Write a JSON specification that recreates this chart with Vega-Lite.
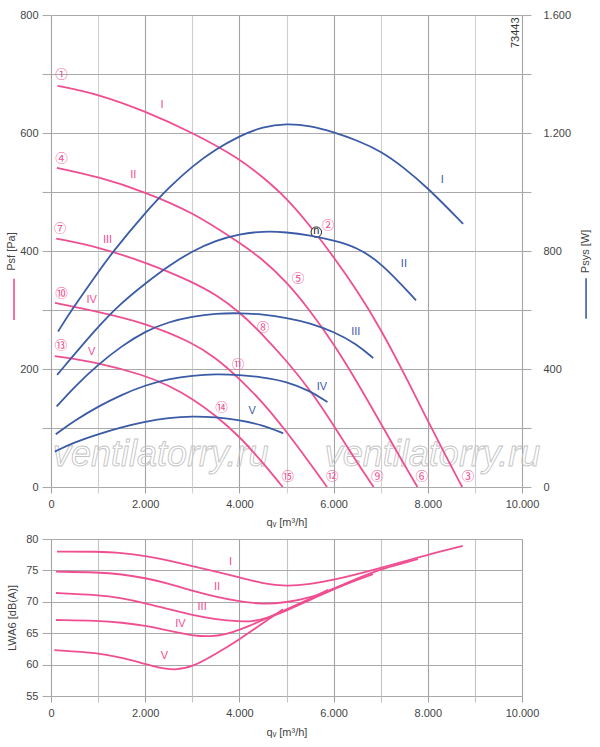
{
  "$schema": "https://vega.github.io/schema/vega-lite/v6.json",
  "description": "Fan performance chart 73443",
  "padding": {"left": 5, "top": 9, "right": 5, "bottom": 5},
  "spacing": 6,
  "config": {
    "font": "Liberation Sans",
    "view": {"stroke": null},
    "axis": {
      "labelFontSize": 11,
      "titleFontSize": 11,
      "labelColor": "#444",
      "titleColor": "#444",
      "titleFontWeight": "normal",
      "domain": false,
      "gridColor": "#aaaaaa",
      "gridWidth": 1.1,
      "tickColor": "#aaaaaa",
      "tickWidth": 1.1,
      "labelFlush": false,
      "labelOverlap": false,
      "labelBound": false
    },
    "text": {"font": "Liberation Sans"}
  },
  "datasets": {
    "pressure": [
      {"c": "I", "q": 140, "p": 680}, {"c": "I", "q": 1000, "p": 666}, {"c": "I", "q": 2000, "p": 637}, {"c": "I", "q": 3000, "p": 601},
      {"c": "I", "q": 4000, "p": 557}, {"c": "I", "q": 4500, "p": 525}, {"c": "I", "q": 5000, "p": 490}, {"c": "I", "q": 5500, "p": 443},
      {"c": "I", "q": 6000, "p": 390}, {"c": "I", "q": 6500, "p": 333}, {"c": "I", "q": 7000, "p": 268}, {"c": "I", "q": 7500, "p": 192},
      {"c": "I", "q": 8000, "p": 112}, {"c": "I", "q": 8400, "p": 50}, {"c": "I", "q": 8730, "p": 0},
      {"c": "II", "q": 125, "p": 541}, {"c": "II", "q": 1000, "p": 526}, {"c": "II", "q": 2000, "p": 500}, {"c": "II", "q": 3000, "p": 466},
      {"c": "II", "q": 4000, "p": 414}, {"c": "II", "q": 4450, "p": 389}, {"c": "II", "q": 5000, "p": 348}, {"c": "II", "q": 5500, "p": 299},
      {"c": "II", "q": 6000, "p": 243}, {"c": "II", "q": 6500, "p": 178}, {"c": "II", "q": 7000, "p": 108}, {"c": "II", "q": 7500, "p": 38},
      {"c": "II", "q": 7780, "p": 0},
      {"c": "III", "q": 110, "p": 421}, {"c": "III", "q": 1000, "p": 407}, {"c": "III", "q": 2000, "p": 381}, {"c": "III", "q": 3000, "p": 348},
      {"c": "III", "q": 3500, "p": 326}, {"c": "III", "q": 4000, "p": 297}, {"c": "III", "q": 4500, "p": 258}, {"c": "III", "q": 5000, "p": 214},
      {"c": "III", "q": 5500, "p": 165}, {"c": "III", "q": 6000, "p": 105}, {"c": "III", "q": 6500, "p": 41}, {"c": "III", "q": 6850, "p": 0},
      {"c": "IV", "q": 85, "p": 312}, {"c": "IV", "q": 1000, "p": 297}, {"c": "IV", "q": 2000, "p": 278}, {"c": "IV", "q": 3000, "p": 245},
      {"c": "IV", "q": 3500, "p": 219}, {"c": "IV", "q": 4000, "p": 184}, {"c": "IV", "q": 4500, "p": 143}, {"c": "IV", "q": 5000, "p": 94},
      {"c": "IV", "q": 5500, "p": 40}, {"c": "IV", "q": 5860, "p": 0},
      {"c": "V", "q": 80, "p": 222}, {"c": "V", "q": 1000, "p": 211}, {"c": "V", "q": 2000, "p": 189}, {"c": "V", "q": 2500, "p": 172},
      {"c": "V", "q": 3000, "p": 150}, {"c": "V", "q": 3500, "p": 121}, {"c": "V", "q": 4000, "p": 86}, {"c": "V", "q": 4500, "p": 41},
      {"c": "V", "q": 4920, "p": 0}
    ],
    "power": [
      {"c": "I", "q": 150, "w": 527}, {"c": "I", "q": 440, "w": 601}, {"c": "I", "q": 1000, "w": 728}, {"c": "I", "q": 1300, "w": 795},
      {"c": "I", "q": 2000, "w": 930}, {"c": "I", "q": 2500, "w": 1015}, {"c": "I", "q": 3000, "w": 1088}, {"c": "I", "q": 3500, "w": 1145},
      {"c": "I", "q": 4000, "w": 1190}, {"c": "I", "q": 4500, "w": 1222}, {"c": "I", "q": 5000, "w": 1232}, {"c": "I", "q": 5500, "w": 1225},
      {"c": "I", "q": 6000, "w": 1203}, {"c": "I", "q": 6500, "w": 1175}, {"c": "I", "q": 7000, "w": 1139}, {"c": "I", "q": 7500, "w": 1082},
      {"c": "I", "q": 8000, "w": 1014}, {"c": "I", "q": 8750, "w": 892},
      {"c": "II", "q": 130, "w": 380}, {"c": "II", "q": 1000, "w": 545}, {"c": "II", "q": 1500, "w": 625}, {"c": "II", "q": 2000, "w": 690},
      {"c": "II", "q": 2500, "w": 750}, {"c": "II", "q": 3000, "w": 800}, {"c": "II", "q": 3500, "w": 836}, {"c": "II", "q": 4000, "w": 858},
      {"c": "II", "q": 4500, "w": 867}, {"c": "II", "q": 5000, "w": 864}, {"c": "II", "q": 5500, "w": 853}, {"c": "II", "q": 6000, "w": 836},
      {"c": "II", "q": 6500, "w": 812}, {"c": "II", "q": 7000, "w": 762}, {"c": "II", "q": 7750, "w": 633},
      {"c": "III", "q": 120, "w": 273}, {"c": "III", "q": 500, "w": 340}, {"c": "III", "q": 1000, "w": 415}, {"c": "III", "q": 1500, "w": 478},
      {"c": "III", "q": 2000, "w": 528}, {"c": "III", "q": 2500, "w": 560}, {"c": "III", "q": 3000, "w": 578}, {"c": "III", "q": 3500, "w": 588},
      {"c": "III", "q": 4000, "w": 590}, {"c": "III", "q": 4500, "w": 585}, {"c": "III", "q": 5000, "w": 574}, {"c": "III", "q": 5500, "w": 556},
      {"c": "III", "q": 6000, "w": 527}, {"c": "III", "q": 6500, "w": 484}, {"c": "III", "q": 6840, "w": 437},
      {"c": "IV", "q": 100, "w": 179}, {"c": "IV", "q": 500, "w": 225}, {"c": "IV", "q": 1000, "w": 273}, {"c": "IV", "q": 1500, "w": 313},
      {"c": "IV", "q": 2000, "w": 345}, {"c": "IV", "q": 2500, "w": 366}, {"c": "IV", "q": 3000, "w": 378}, {"c": "IV", "q": 3500, "w": 383},
      {"c": "IV", "q": 4000, "w": 380}, {"c": "IV", "q": 4500, "w": 372}, {"c": "IV", "q": 5000, "w": 358}, {"c": "IV", "q": 5500, "w": 326},
      {"c": "IV", "q": 5870, "w": 288},
      {"c": "V", "q": 80, "w": 120}, {"c": "V", "q": 500, "w": 152}, {"c": "V", "q": 1000, "w": 179}, {"c": "V", "q": 1500, "w": 203},
      {"c": "V", "q": 2000, "w": 222}, {"c": "V", "q": 2500, "w": 235}, {"c": "V", "q": 3000, "w": 240}, {"c": "V", "q": 3500, "w": 237},
      {"c": "V", "q": 4000, "w": 227}, {"c": "V", "q": 4500, "w": 210}, {"c": "V", "q": 4930, "w": 182}
    ],
    "noise": [
      {"c": "I", "q": 127, "db": 78.0}, {"c": "I", "q": 1000, "db": 78.0}, {"c": "I", "q": 1500, "db": 77.8}, {"c": "I", "q": 2000, "db": 77.3},
      {"c": "I", "q": 2500, "db": 76.6}, {"c": "I", "q": 3000, "db": 75.7}, {"c": "I", "q": 3500, "db": 74.8}, {"c": "I", "q": 4000, "db": 73.9},
      {"c": "I", "q": 4500, "db": 72.9}, {"c": "I", "q": 5000, "db": 72.45}, {"c": "I", "q": 5500, "db": 72.8}, {"c": "I", "q": 6000, "db": 73.5},
      {"c": "I", "q": 6500, "db": 74.4}, {"c": "I", "q": 7000, "db": 75.4}, {"c": "I", "q": 7500, "db": 76.45}, {"c": "I", "q": 8000, "db": 77.5},
      {"c": "I", "q": 8743, "db": 78.9},
      {"c": "II", "q": 106, "db": 74.8}, {"c": "II", "q": 1000, "db": 74.7}, {"c": "II", "q": 1500, "db": 74.4}, {"c": "II", "q": 2000, "db": 73.8},
      {"c": "II", "q": 2500, "db": 72.9}, {"c": "II", "q": 3000, "db": 71.75}, {"c": "II", "q": 3500, "db": 70.8}, {"c": "II", "q": 4000, "db": 70.05},
      {"c": "II", "q": 4500, "db": 69.6}, {"c": "II", "q": 5000, "db": 69.9}, {"c": "II", "q": 5500, "db": 70.6}, {"c": "II", "q": 6000, "db": 72.1},
      {"c": "II", "q": 6500, "db": 73.7}, {"c": "II", "q": 7000, "db": 75.2}, {"c": "II", "q": 7500, "db": 76.2}, {"c": "II", "q": 7790, "db": 76.8},
      {"c": "III", "q": 106, "db": 71.4}, {"c": "III", "q": 1000, "db": 71.1}, {"c": "III", "q": 1500, "db": 70.6}, {"c": "III", "q": 2000, "db": 69.8},
      {"c": "III", "q": 2500, "db": 68.8}, {"c": "III", "q": 3000, "db": 67.9}, {"c": "III", "q": 3500, "db": 67.2}, {"c": "III", "q": 4000, "db": 66.85},
      {"c": "III", "q": 4300, "db": 66.9}, {"c": "III", "q": 4600, "db": 67.4}, {"c": "III", "q": 5000, "db": 68.6}, {"c": "III", "q": 5500, "db": 70.3},
      {"c": "III", "q": 6000, "db": 72.0}, {"c": "III", "q": 6500, "db": 73.5}, {"c": "III", "q": 6836, "db": 74.4},
      {"c": "IV", "q": 106, "db": 67.1}, {"c": "IV", "q": 1000, "db": 67.0}, {"c": "IV", "q": 1500, "db": 66.7}, {"c": "IV", "q": 2000, "db": 66.2},
      {"c": "IV", "q": 2500, "db": 65.4}, {"c": "IV", "q": 3000, "db": 64.6}, {"c": "IV", "q": 3400, "db": 64.45}, {"c": "IV", "q": 3700, "db": 64.8},
      {"c": "IV", "q": 4000, "db": 65.5}, {"c": "IV", "q": 4500, "db": 67.1}, {"c": "IV", "q": 5000, "db": 68.8}, {"c": "IV", "q": 5500, "db": 70.5},
      {"c": "IV", "q": 5883, "db": 71.9},
      {"c": "V", "q": 71, "db": 62.3}, {"c": "V", "q": 1000, "db": 61.9}, {"c": "V", "q": 1500, "db": 61.1}, {"c": "V", "q": 2000, "db": 60.1},
      {"c": "V", "q": 2300, "db": 59.5}, {"c": "V", "q": 2620, "db": 59.1}, {"c": "V", "q": 3000, "db": 59.6}, {"c": "V", "q": 3500, "db": 61.7},
      {"c": "V", "q": 4000, "db": 64.0}, {"c": "V", "q": 4500, "db": 66.6}, {"c": "V", "q": 4922, "db": 68.8}
    ],
    "circled": [
      {"t": "①", "q": 225, "p": 698}, {"t": "②", "q": 5881, "p": 443}, {"t": "③", "q": 8851, "p": 17},
      {"t": "④", "q": 225, "p": 556}, {"t": "⑤", "q": 5245, "p": 353}, {"t": "⑥", "q": 7870, "p": 17},
      {"t": "⑦", "q": 190, "p": 438}, {"t": "⑧", "q": 4503, "p": 270}, {"t": "⑨", "q": 6927, "p": 17},
      {"t": "⑩", "q": 225, "p": 327}, {"t": "⑪", "q": 3972, "p": 207}, {"t": "⑫", "q": 5970, "p": 17},
      {"t": "⑬", "q": 210, "p": 239}, {"t": "⑭", "q": 3620, "p": 134}, {"t": "⑮", "q": 5025, "p": 17}
    ],
    "proman": [
      {"t": "I", "q": 2360, "p": 648}, {"t": "II", "q": 1745, "p": 528}, {"t": "III", "q": 1200, "p": 418},
      {"t": "IV", "q": 862, "p": 317}, {"t": "V", "q": 862, "p": 228}
    ],
    "wroman": [
      {"t": "I", "q": 8306, "w": 1042}, {"t": "II", "q": 7493, "w": 757}, {"t": "III", "q": 6470, "w": 526},
      {"t": "IV", "q": 5754, "w": 340}, {"t": "V", "q": 4270, "w": 256}
    ],
    "nroman": [
      {"t": "I", "q": 3810, "db": 76.4}, {"t": "II", "q": 3527, "db": 72.4}, {"t": "III", "q": 3208, "db": 69.1},
      {"t": "IV", "q": 2748, "db": 66.5}, {"t": "V", "q": 2408, "db": 61.3}
    ],
    "watermark": [
      {"t": "ventilatorry.ru", "q": 2330, "p": 54},
      {"t": "ventilatorry.ru", "q": 8100, "p": 54}
    ]
  },
  "vconcat": [
    {
      "width": 471,
      "height": 472,
      "encoding": {
        "x": {
          "field": "q",
          "type": "quantitative",
          "scale": {"domain": [0, 10000], "nice": false, "zero": false},
          "axis": {
            "values": [0, 1000, 2000, 3000, 4000, 5000, 6000, 7000, 8000, 9000, 10000],
            "labelExpr": "datum.value % 2000 === 0 ? replace(format(datum.value, ','), ',', '.') : ''",
            "title": "qᵥ [m³/h]",
            "tickSize": 6,
            "labelPadding": 5,
            "titlePadding": 7,
            "gridColor": {"condition": {"test": "datum.value % 2000 === 0", "value": "#a3a3a3"}, "value": "#d0d0d0"},
            "tickColor": {"condition": {"test": "datum.value % 2000 === 0", "value": "#a3a3a3"}, "value": "#d0d0d0"}
          }
        }
      },
      "layer": [
        {
          "encoding": {
            "y": {
              "field": "p",
              "type": "quantitative",
              "scale": {"domain": [0, 800], "nice": false},
              "axis": {
                "values": [0, 100, 200, 300, 400, 500, 600, 700, 800],
                "labelExpr": "datum.value % 200 === 0 ? datum.label : ''",
                "title": "Psf [Pa]",
                "tickSize": 9,
                "labelPadding": 4,
                "titlePadding": 3
              }
            }
          },
          "layer": [
            {
              "data": {"name": "watermark"},
              "mark": {"type": "text", "fontSize": 36, "fontStyle": "italic", "fill": "#ffffff", "fillOpacity": 0, "stroke": "#c4c4c4", "strokeWidth": 0.9},
              "encoding": {"text": {"field": "t"}}
            },
            {
              "data": {"name": "pressure"},
              "mark": {"type": "line", "color": "#ef4f91", "strokeWidth": 1.8, "interpolate": "basis"},
              "encoding": {"detail": {"field": "c"}}
            },
            {
              "data": {"name": "circled"},
              "mark": {"type": "text", "color": "#ef4f91", "fontSize": 12.5, "font": "Noto Sans CJK JP"},
              "encoding": {"text": {"field": "t"}}
            },
            {
              "data": {"name": "proman"},
              "mark": {"type": "text", "color": "#ef4f91", "fontSize": 11},
              "encoding": {"text": {"field": "t"}}
            },
            {
              "data": {"values": [{"q": 5633, "p": 432}]},
              "mark": {"type": "point", "shape": "circle", "size": 110, "filled": true, "fill": "#ffffff", "stroke": "#222222", "strokeWidth": 1, "opacity": 1}
            },
            {
              "data": {"values": [{"q": 5633, "p": 432, "t": "n"}]},
              "mark": {"type": "text", "color": "#222222", "fontSize": 11, "dy": -1},
              "encoding": {"text": {"field": "t"}}
            },
            {
              "data": {"values": [{"q": 9875, "p": 770, "t": "73443"}]},
              "mark": {"type": "text", "color": "#333333", "fontSize": 11, "angle": 270},
              "encoding": {"text": {"field": "t"}}
            },
            {
              "data": {"values": [{"q": -785, "p": 283, "p2": 353}]},
              "mark": {"type": "rule", "color": "#ef4f91", "strokeWidth": 1.6, "clip": false},
              "encoding": {"y2": {"field": "p2"}}
            },
            {
              "data": {"values": [{"q": 11360, "p": 285, "p2": 354}]},
              "mark": {"type": "rule", "color": "#3b5ba6", "strokeWidth": 1.6, "clip": false},
              "encoding": {"y2": {"field": "p2"}}
            }
          ]
        },
        {
          "encoding": {
            "y": {
              "field": "w",
              "type": "quantitative",
              "scale": {"domain": [0, 1600], "nice": false},
              "axis": {
                "orient": "right",
                "values": [0, 200, 400, 600, 800, 1000, 1200, 1400, 1600],
                "labelExpr": "datum.value % 400 === 0 ? replace(format(datum.value, ','), ',', '.') : ''",
                "grid": false,
                "title": "Psys [W]",
                "titleAngle": 270,
                "tickSize": 9,
                "labelPadding": 12,
                "titlePadding": 20
              }
            }
          },
          "layer": [
            {
              "data": {"name": "power"},
              "mark": {"type": "line", "color": "#3b5ba6", "strokeWidth": 1.8, "interpolate": "basis"},
              "encoding": {"detail": {"field": "c"}}
            },
            {
              "data": {"name": "wroman"},
              "mark": {"type": "text", "color": "#3b5ba6", "fontSize": 11},
              "encoding": {"text": {"field": "t"}}
            }
          ]
        }
      ],
      "resolve": {"scale": {"y": "independent"}}
    },
    {
      "width": 471,
      "height": 157,
      "encoding": {
        "x": {
          "field": "q",
          "type": "quantitative",
          "scale": {"domain": [0, 10000], "nice": false, "zero": false},
          "axis": {
            "values": [0, 1000, 2000, 3000, 4000, 5000, 6000, 7000, 8000, 9000, 10000],
            "labelExpr": "datum.value % 2000 === 0 ? replace(format(datum.value, ','), ',', '.') : ''",
            "title": "qᵥ [m³/h]",
            "tickSize": 6,
            "labelPadding": 5,
            "titlePadding": 8,
            "gridColor": {"condition": {"test": "datum.value % 2000 === 0", "value": "#a3a3a3"}, "value": "#c4c4c4"},
            "tickColor": {"condition": {"test": "datum.value % 2000 === 0", "value": "#a3a3a3"}, "value": "#c4c4c4"}
          }
        },
        "y": {
          "field": "db",
          "type": "quantitative",
          "scale": {"domain": [55, 80], "nice": false, "zero": false},
          "axis": {
            "values": [55, 60, 65, 70, 75, 80],
            "title": "LWA6 [dB(A)]",
            "tickSize": 9,
            "labelPadding": 4,
            "titlePadding": 8
          }
        }
      },
      "layer": [
        {
          "data": {"name": "noise"},
          "mark": {"type": "line", "color": "#ef4f91", "strokeWidth": 1.8, "interpolate": "basis"},
          "encoding": {"detail": {"field": "c"}}
        },
        {
          "data": {"name": "nroman"},
          "mark": {"type": "text", "color": "#ef4f91", "fontSize": 11},
          "encoding": {"text": {"field": "t"}}
        }
      ]
    }
  ]
}
